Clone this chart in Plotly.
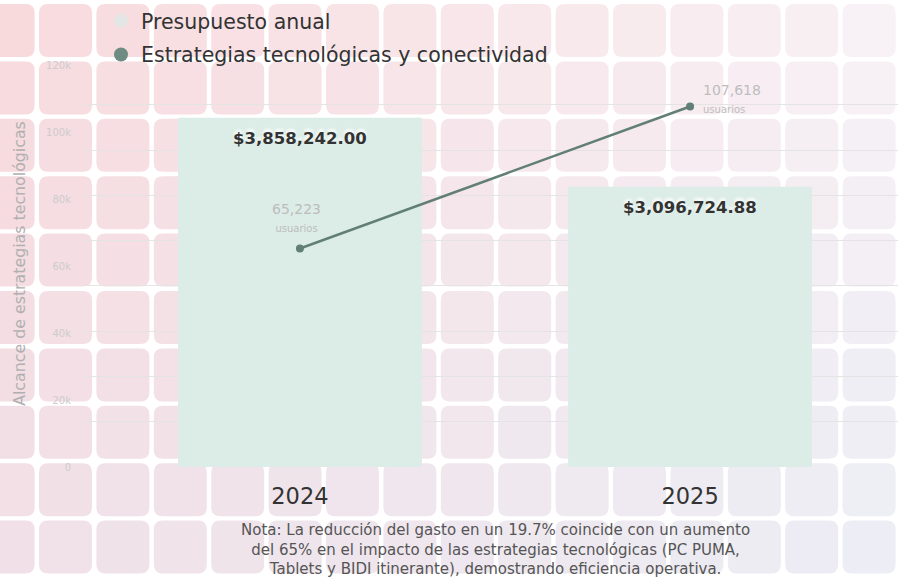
import plotly.graph_objects as go

# data
years = ["2024", "2025"]
budget = [3858242.00, 3096724.88]
budget_labels = ["$3,858,242.00", "$3,096,724.88"]
users = [65223, 107618]
user_labels = ["65,223", "107,618"]
user_ticks = [0, 20000, 40000, 60000, 80000, 100000, 120000]
user_tick_text = ["0", "20k", "40k", "60k", "80k", "100k", "120k"]
note = ("Nota: La reducción del gasto en un 19.7% coincide con un aumento<br>"
        "del 65% en el impacto de las estrategias tecnológicas (PC PUMA,<br>"
        "Tablets y BIDI itinerante), demostrando eficiencia operativa.")

W, H = 898, 578
L, R, T, B = 83, 0, 60, 111
PW, PH = W - L - R, H - T - B
FONT = "DejaVu Sans"


def px2paper(x, y):
    return (x - L) / PW, (H - B - y) / PH


def mix(c1, c2, t):
    return tuple(a + (b - a) * t for a, b in zip(c1, c2))


# background tile pattern (pink top-left fading to lavender bottom-right)
TL, TR = (249, 218, 221), (249, 242, 246)
BL, BR = (241, 225, 232), (236, 238, 246)
shapes = []
size, pitch, rad = 53, 57.4, 9
for j in range(10):
    for k in range(-1, 15):
        x0, y0 = 39 + pitch * k, 4 + pitch * j
        x1, y1 = x0 + size, y0 + size
        tx = min(max((x0 + size / 2) / W, 0), 1)
        ty = min(max((y0 + size / 2) / H, 0), 1)
        c = mix(mix(TL, TR, tx), mix(BL, BR, tx), ty)
        pts = [
            ("M", x0 + rad, y0), ("L", x1 - rad, y0), ("Q", x1, y0, x1, y0 + rad),
            ("L", x1, y1 - rad), ("Q", x1, y1, x1 - rad, y1), ("L", x0 + rad, y1),
            ("Q", x0, y1, x0, y1 - rad), ("L", x0, y0 + rad), ("Q", x0, y0, x0 + rad, y0),
        ]
        path = ""
        for p in pts:
            cmd, coords = p[0], p[1:]
            parts = []
            for i in range(0, len(coords), 2):
                a, b = px2paper(coords[i], coords[i + 1])
                parts.append(f"{a:.5f},{b:.5f}")
            path += cmd + " ".join(parts)
        path += "Z"
        shapes.append(dict(type="path", xref="paper", yref="paper", path=path,
                           fillcolor="rgb(%d,%d,%d)" % tuple(int(v) for v in c),
                           line=dict(width=0), layer="below"))

fig = go.Figure()

fig.add_trace(go.Bar(
    x=years, y=budget, name="Presupuesto anual",
    marker=dict(color="#dcece7", line=dict(width=0)),
    width=0.625, showlegend=False, yaxis="y",
))

fig.add_trace(go.Scatter(
    x=years, y=users, name="Estrategias tecnológicas y conectividad",
    mode="lines+markers",
    line=dict(color="#627f76", width=2.5),
    marker=dict(size=8, color="#627f76"),
    showlegend=False, yaxis="y2",
))

# legend entries shown as circles
fig.add_trace(go.Scatter(x=[None], y=[None], mode="markers", name="Presupuesto anual",
                         legendgroup="a", marker=dict(size=14, color="#e3e6e5")))
fig.add_trace(go.Scatter(x=[None], y=[None], mode="markers",
                         name="Estrategias tecnológicas y conectividad",
                         legendgroup="b", marker=dict(size=14, color="#6f8c83")))

annotations = []
# budget labels near the top of each bar (x = category index)
for i, (y, t) in enumerate(zip(budget, budget_labels)):
    annotations.append(dict(x=i, y=y, xref="x", yref="y", text=t, showarrow=False,
                            yanchor="middle", yshift=-21,
                            font=dict(family=FONT, size=16.5, color="#333333",
                                      weight="bold", shadow="0px -3px 3px white")))
# user labels beside the line points
u_lab = [f"{t}<br><span style='font-size:10px'>usuarios</span>" for t in user_labels]
annotations.append(dict(x=0, y=users[0], xref="x", yref="y2", text=u_lab[0],
                        showarrow=False, xanchor="center", yanchor="bottom",
                        xshift=-3, yshift=13,
                        font=dict(family=FONT, size=14, color="#bdbdbd")))
annotations.append(dict(x=1, y=users[1], xref="x", yref="y2", text=u_lab[1],
                        showarrow=False, xanchor="left", yanchor="middle", align="left",
                        xshift=11, yshift=8,
                        font=dict(family=FONT, size=14, color="#bdbdbd")))
annotations.append(dict(text=note, xref="paper", yref="paper",
                        x=px2paper(495, 0)[0], y=px2paper(0, 519)[1],
                        xanchor="center", yanchor="top", showarrow=False, align="center",
                        font=dict(size=15, color="#555555")))

lx, ly = px2paper(101, 1)
fig.update_layout(
    width=W, height=H, autosize=False,
    margin=dict(l=L, r=R, t=T, b=B, autoexpand=False),
    paper_bgcolor="white", plot_bgcolor="rgba(0,0,0,0)",
    shapes=shapes,
    font=dict(family=FONT),
    xaxis=dict(type="category", range=[-0.556, 1.533], showgrid=False, showline=False,
               zeroline=False, ticks="outside", ticklen=9, tickcolor="rgba(0,0,0,0)",
               tickfont=dict(size=22.5, color="#333333"), automargin=False),
    yaxis=dict(range=[0, 4.497e6], showgrid=True, gridcolor="#e4e4e4", gridwidth=1,
               zeroline=False, showticklabels=False, fixedrange=True, automargin=False),
    yaxis2=dict(range=[0, 121500], overlaying="y", side="left", showgrid=False,
                zeroline=False, tickvals=user_ticks, ticktext=user_tick_text,
                tickfont=dict(size=10, color="#cccccc"), ticklabelstandoff=11,
                automargin=False,
                title=dict(text="Alcance de estrategias tecnológicas",
                           font=dict(size=15.8, color="#b0b0b0"), standoff=16)),
    legend=dict(x=lx, y=ly, xanchor="left", yanchor="top", bgcolor="rgba(0,0,0,0)",
                font=dict(size=20.5, color="#333333"), tracegroupgap=4),
    annotations=annotations,
)

fig.write_html("out.html", config={"displayModeBar": False},
               post_script="document.body.style.margin='0px';")
